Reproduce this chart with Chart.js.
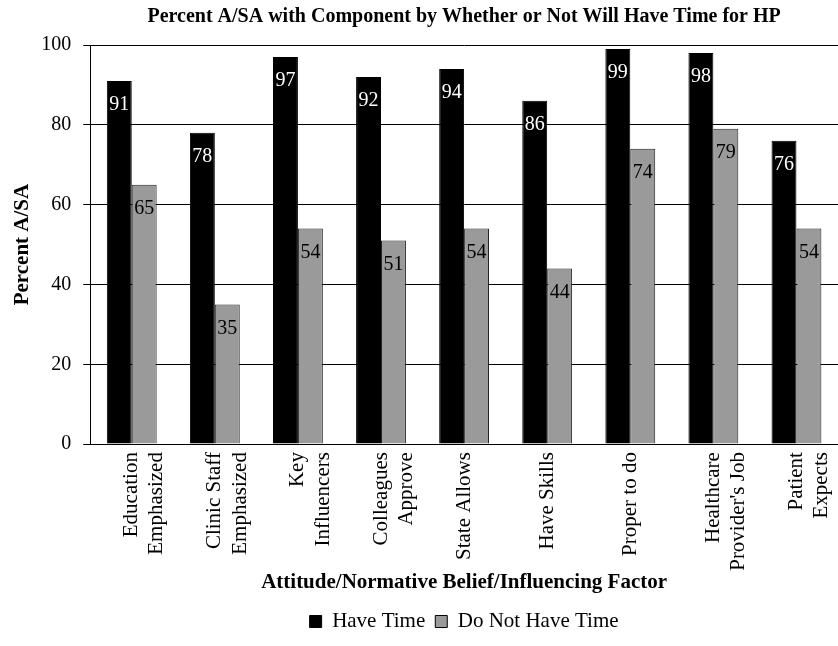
<!DOCTYPE html>
<html>
<head>
<meta charset="utf-8">
<script src="https://cdn.jsdelivr.net/npm/chart.js@4.4.1/dist/chart.umd.min.js"></script>
<style>
  body { margin: 0; background: #fff; }
  #wrap { width: 838px; height: 646px; }
</style>
</head>
<body>
<div id="wrap"><canvas id="barChart" width="838" height="646"></canvas></div>
<script>
const categories = [
  ["Education", "Emphasized"],
  ["Clinic Staff", "Emphasized"],
  ["Key", "Influencers"],
  ["Colleagues", "Approve"],
  "State Allows",
  "Have Skills",
  "Proper to do",
  ["Healthcare", "Provider's Job"],
  ["Patient", "Expects"]
];
const haveTime = [91, 78, 97, 92, 94, 86, 99, 98, 76];
const noTime = [65, 35, 54, 51, 54, 44, 74, 79, 54];
const yTicks = [0, 20, 40, 60, 80, 100];

const serif = "'Liberation Serif', 'Times New Roman', serif";

// value labels just under the top of every bar
const valueLabels = {
  id: "valueLabels",
  afterDatasetsDraw(chart) {
    const ctx = chart.ctx;
    ctx.save();
    ctx.font = "20px " + serif;
    ctx.textAlign = "center";
    ctx.textBaseline = "middle";
    chart.data.datasets.forEach((ds, i) => {
      const meta = chart.getDatasetMeta(i);
      ctx.fillStyle = i === 0 ? "#ffffff" : "#000000";
      meta.data.forEach((bar, j) => {
        ctx.fillText(ds.data[j], bar.x, bar.y + 24);
      });
    });
    ctx.restore();
  }
};

new Chart("barChart", {
  type: "bar",
  data: {
    labels: categories,
    datasets: [
      {
        label: "Have Time",
        data: haveTime,
        backgroundColor: "#000000",
        borderColor: "#000000",
        borderWidth: 1
      },
      {
        label: "Do Not Have Time",
        data: noTime,
        backgroundColor: "#9a9a9a",
        borderColor: "#222222",
        borderWidth: 1
      }
    ]
  },
  options: {
    responsive: false,
    animation: false,
    categoryPercentage: 0.6,
    barPercentage: 1.0,
    layout: { padding: { left: 10, right: 0, top: 3, bottom: 4 } },
    plugins: {
      title: {
        display: true,
        fullSize: false,
        text: "Percent A/SA with Component by Whether or Not Will Have Time for HP",
        color: "#000",
        font: { family: serif, size: 20, weight: "bold" },
        padding: { top: 2, bottom: 16 }
      },
      legend: {
        position: "bottom",
        fullSize: false,
        labels: {
          color: "#000",
          font: { family: serif, size: 21 },
          boxWidth: 12,
          boxHeight: 12,
          padding: 10,
          generateLabels(chart) {
            return chart.data.datasets.map((ds, i) => ({
              text: ds.label,
              fillStyle: ds.backgroundColor,
              strokeStyle: "#000",
              lineWidth: 1,
              datasetIndex: i
            }));
          }
        }
      },
      tooltip: { enabled: false }
    },
    scales: {
      x: {
        grid: { display: false },
        border: { display: true, color: "#000", width: 1 },
        afterFit(scale) {
          // plot runs right up to the canvas edge, as in the original
          scale.paddingRight = 0;
        },
        ticks: {
          color: "#000",
          font: { family: serif, size: 21 },
          maxRotation: 90,
          minRotation: 90,
          padding: 0
        },
        title: {
          display: true,
          text: "Attitude/Normative Belief/Influencing Factor",
          color: "#000",
          font: { family: serif, size: 21, weight: "bold" },
          padding: { top: -1, bottom: 6 }
        }
      },
      y: {
        min: 0,
        max: 100,
        afterBuildTicks(axis) {
          axis.ticks = yTicks.map(v => ({ value: v }));
        },
        grid: { color: "#000", lineWidth: 1, tickLength: 7 },
        border: { display: true, color: "#000", width: 1 },
        ticks: {
          color: "#000",
          font: { family: serif, size: 20 },
          padding: 12
        },
        title: {
          display: true,
          text: "Percent A/SA",
          color: "#000",
          font: { family: serif, size: 21, weight: "bold" },
          padding: { top: 0, bottom: -6 }
        }
      }
    }
  },
  plugins: [valueLabels]
});
</script>
</body>
</html>
